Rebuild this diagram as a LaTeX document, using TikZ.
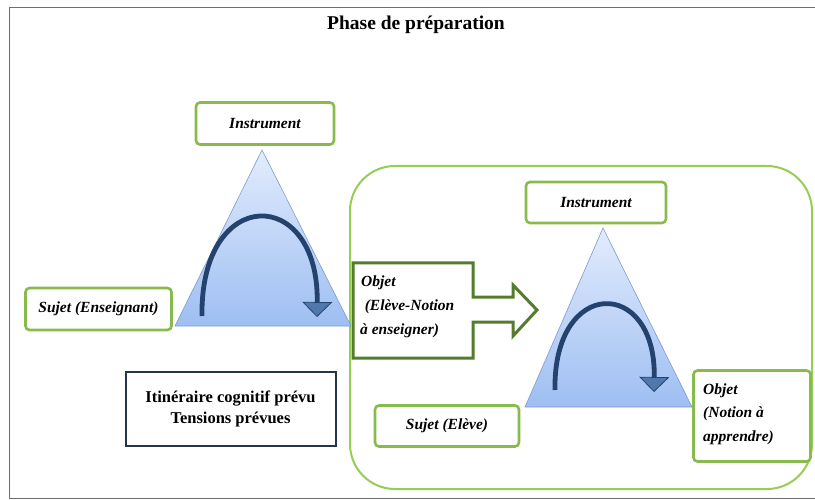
\documentclass[tikz,border=0pt]{standalone}
\usepackage{fontspec}
\setmainfont{Liberation Serif}
\usetikzlibrary{arrows.meta,shapes.geometric}
\definecolor{boxgreen}{RGB}{137,186,78}
\definecolor{biggreen}{RGB}{150,205,85}
\definecolor{olive}{RGB}{84,124,44}
\definecolor{navy}{RGB}{38,52,78}
\definecolor{tritop}{RGB}{226,236,253}
\definecolor{tribot}{RGB}{158,190,242}
\definecolor{triedge}{RGB}{125,155,205}
\definecolor{arcblue}{RGB}{36,66,110}
\definecolor{arcfill}{RGB}{80,120,170}
\definecolor{framegray}{RGB}{110,110,110}
\tikzset{
  gbox/.style={draw=boxgreen, line width=2.6pt, rounded corners=4pt, fill=white,
    font=\fontsize{15.5}{18}\selectfont\bfseries\itshape, align=center, inner sep=0pt},
  tri/.style={draw=triedge, line width=0.6pt, top color=tritop, bottom color=tribot},
  arc/.style={draw=arcblue, line width=4.8pt,
    -{Triangle[width=30pt,length=15pt,line width=0.8pt,fill=arcfill]}},
  lbl/.style={font=\fontsize{15.5}{18}\selectfont\bfseries\itshape, anchor=west, inner sep=0pt},
}
\begin{document}
\begin{tikzpicture}[x=1pt,y=-1pt]
\useasboundingbox (0,0) rectangle (815,500);
% frame
\draw[framegray, line width=0.8pt] (815,7) -- (9,7) -- (9,498) -- (815,498);
% title
\node[font=\fontsize{19.5}{22}\selectfont\bfseries] (title) at (416,25) {Phase de préparation};

% big rounded rectangle
\draw[biggreen, line width=2pt, rounded corners=45pt] (350,166) rectangle (812,489);

% triangle 1
\coordinate (t1a) at (262,150);
\coordinate (t1l) at (175,326);
\coordinate (t1r) at (351,326);
\path[tri] (t1a) -- (t1l) -- (t1r) -- cycle;
\coordinate (a1s) at (202,316);
\coordinate (a1e) at (317,317);
\draw[arc] (a1s) .. controls (200,185) and (319,185) .. (a1e);

% instrument 1
\node[gbox, minimum width=138pt, minimum height=42pt] (instr1) at (265,123.5) {Instrument};
% sujet enseignant
\node[gbox, minimum width=146pt, minimum height=42pt] (sujet1) at (98.5,309) {Sujet (Enseignant)};

% itineraire box
\node[draw=navy, line width=2pt, minimum width=210pt, minimum height=74pt, align=center,
  font=\fontsize{16.5}{21}\selectfont\bfseries] (itin) at (230.5,408.5)
  {Itinéraire cognitif prévu\\Tensions prévues};

% triangle 2
\coordinate (t2a) at (603,228);
\coordinate (t2l) at (525,407);
\coordinate (t2r) at (692,407);
\path[tri] (t2a) -- (t2l) -- (t2r) -- cycle;
\coordinate (a2s) at (555,390);
\coordinate (a2e) at (654,392);
\draw[arc] (a2s) .. controls (553,277) and (656,277) .. (a2e);

% instrument 2
\node[gbox, minimum width=140pt, minimum height=41pt] (instr2) at (596,202.5) {Instrument};
% sujet eleve
\node[gbox, minimum width=144pt, minimum height=41pt] (sujet2) at (447,426) {Sujet (Elève)};
% objet notion a apprendre
\node[gbox, minimum width=117pt, minimum height=91pt] (obj2) at (752,416) {};
\node[lbl] (o2a) at (703,391) {Objet};
\node[lbl] (o2b) at (703,414) {(Notion à};
\node[lbl] (o2c) at (703,438) {apprendre)};

% objet arrow shape
\draw[olive, line width=3pt, fill=white, line join=miter]
  (353,263) -- (473,263) -- (473,297) -- (513,297) -- (513,285) -- (537,310)
  -- (513,336) -- (513,322) -- (473,322) -- (473,358) -- (353,358) -- cycle;
\node[lbl] (o1a) at (361,283) {Objet};
\node[lbl] (o1b) at (362,307) {\,(Elève-Notion};
\node[lbl] (o1c) at (360,331) {à enseigner)};
\end{tikzpicture}
\end{document}
